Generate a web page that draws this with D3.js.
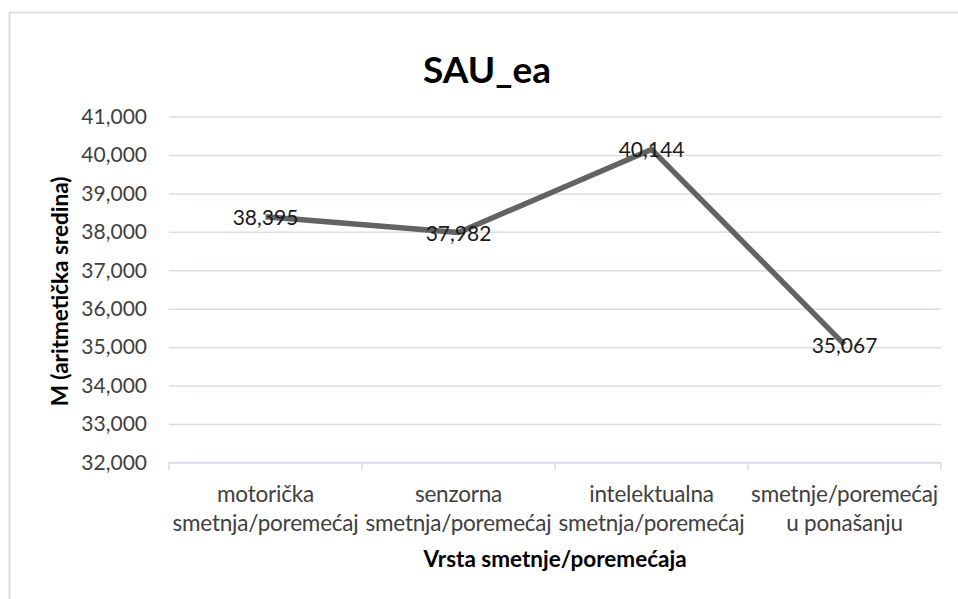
<!DOCTYPE html>
<html>
<head>
<meta charset="utf-8">
<script src="https://cdn.jsdelivr.net/npm/d3@7"></script>
<style>
  html, body { margin: 0; padding: 0; background: #fff; }
  svg { display: block; }
  text { font-family: Lato, "Open Sans", sans-serif; }
</style>
</head>
<body>
<svg id="chart" width="958" height="599"></svg>
<script>
const title = "SAU_ea";
const categories = [
  ["motorička", "smetnja/poremećaj"],
  ["senzorna", "smetnja/poremećaj"],
  ["intelektualna", "smetnja/poremećaj"],
  ["smetnje/poremećaj", "u ponašanju"]
];
const values = [38.395, 37.982, 40.144, 35.067];
const yTicks = [32, 33, 34, 35, 36, 37, 38, 39, 40, 41];
const yTitle = "M (aritmetička sredina)";
const xTitle = "Vrsta smetnje/poremećaja";

const svg = d3.select("#chart");
const W = 958, H = 599;
const plot = { left: 169, right: 941, top: 116.5, bottom: 462.5 };

// chart border
svg.append("rect")
  .attr("x", 9.5).attr("y", 12.5)
  .attr("width", W + 20).attr("height", H + 20)
  .attr("fill", "#fff").attr("stroke", "#d9dee6").attr("stroke-width", 2);

const x = d3.scaleBand()
  .domain(d3.range(categories.length))
  .range([plot.left, plot.right])
  .paddingInner(0).paddingOuter(0);

const y = d3.scaleLinear()
  .domain([32, 41])
  .range([plot.bottom, plot.top]);

const fmtNum = v => d3.format(".3f")(v).replace(".", ",");

// gridlines + tick labels
const yAxis = d3.axisLeft(y)
  .tickValues(yTicks)
  .tickSize(-(plot.right - plot.left))
  .tickPadding(22)
  .tickFormat(fmtNum);

const gy = svg.append("g")
  .attr("transform", `translate(${plot.left},0)`)
  .call(yAxis);
gy.select(".domain").remove();
gy.selectAll(".tick line")
  .attr("stroke", "#d9dde4").attr("stroke-width", 1.5);
gy.selectAll(".tick text")
  .attr("fill", "#404040")
  .style("font-size", "21px");

// x axis line with ticks at band boundaries
const gx = svg.append("g")
  .attr("transform", `translate(0,${plot.bottom})`);
gx.append("line")
  .attr("x1", plot.left).attr("x2", plot.right)
  .attr("stroke", "#d9dde4").attr("stroke-width", 1.5);
const bounds = d3.range(categories.length + 1).map(i => i < categories.length ? x(i) : x(i - 1) + x.bandwidth());
gx.selectAll(".xt").data(bounds).join("line")
  .attr("x1", d => d).attr("x2", d => d)
  .attr("y1", 0).attr("y2", 8)
  .attr("stroke", "#d9dde4").attr("stroke-width", 1.5);

// category labels
gx.selectAll(".cat").data(categories).join("text")
  .attr("class", "cat")
  .attr("text-anchor", "middle")
  .attr("fill", "#404040")
  .style("font-size", "22.5px")
  .style("letter-spacing", "-0.2px")
  .each(function(d, i) {
    const t = d3.select(this);
    d.forEach((line, j) => {
      t.append("tspan")
        .attr("x", x(i) + x.bandwidth() / 2)
        .attr("y", 39 + j * 29.5)
        .text(line);
    });
  });

// line
const line = d3.line()
  .x((d, i) => x(i) + x.bandwidth() / 2)
  .y(d => y(d));
svg.append("path")
  .datum(values)
  .attr("d", line)
  .attr("fill", "none")
  .attr("stroke", "#636363")
  .attr("stroke-width", 5.5)
  .attr("stroke-linejoin", "round");

// data labels
svg.selectAll(".lbl").data(values).join("text")
  .attr("class", "lbl")
  .attr("x", (d, i) => x(i) + x.bandwidth() / 2)
  .attr("y", d => y(d) + 8)
  .attr("text-anchor", "middle")
  .attr("fill", "#1a1a1a")
  .style("font-size", "21px")
  .text(fmtNum);

// title
svg.append("text")
  .attr("x", 487).attr("y", 83)
  .attr("text-anchor", "middle")
  .attr("fill", "#000")
  .style("font-size", "37px").style("font-weight", "bold")
  .text(title);

// y title
svg.append("text")
  .attr("transform", `translate(68,${(plot.top + plot.bottom) / 2 + 2}) rotate(-90)`)
  .attr("text-anchor", "middle")
  .attr("fill", "#000")
  .style("font-size", "22.5px").style("font-weight", "bold")
  .text(yTitle);

// x title
svg.append("text")
  .attr("x", (plot.left + plot.right) / 2).attr("y", 567)
  .attr("text-anchor", "middle")
  .attr("fill", "#000")
  .style("font-size", "22.5px").style("font-weight", "bold")
  .text(xTitle);
</script>
</body>
</html>
